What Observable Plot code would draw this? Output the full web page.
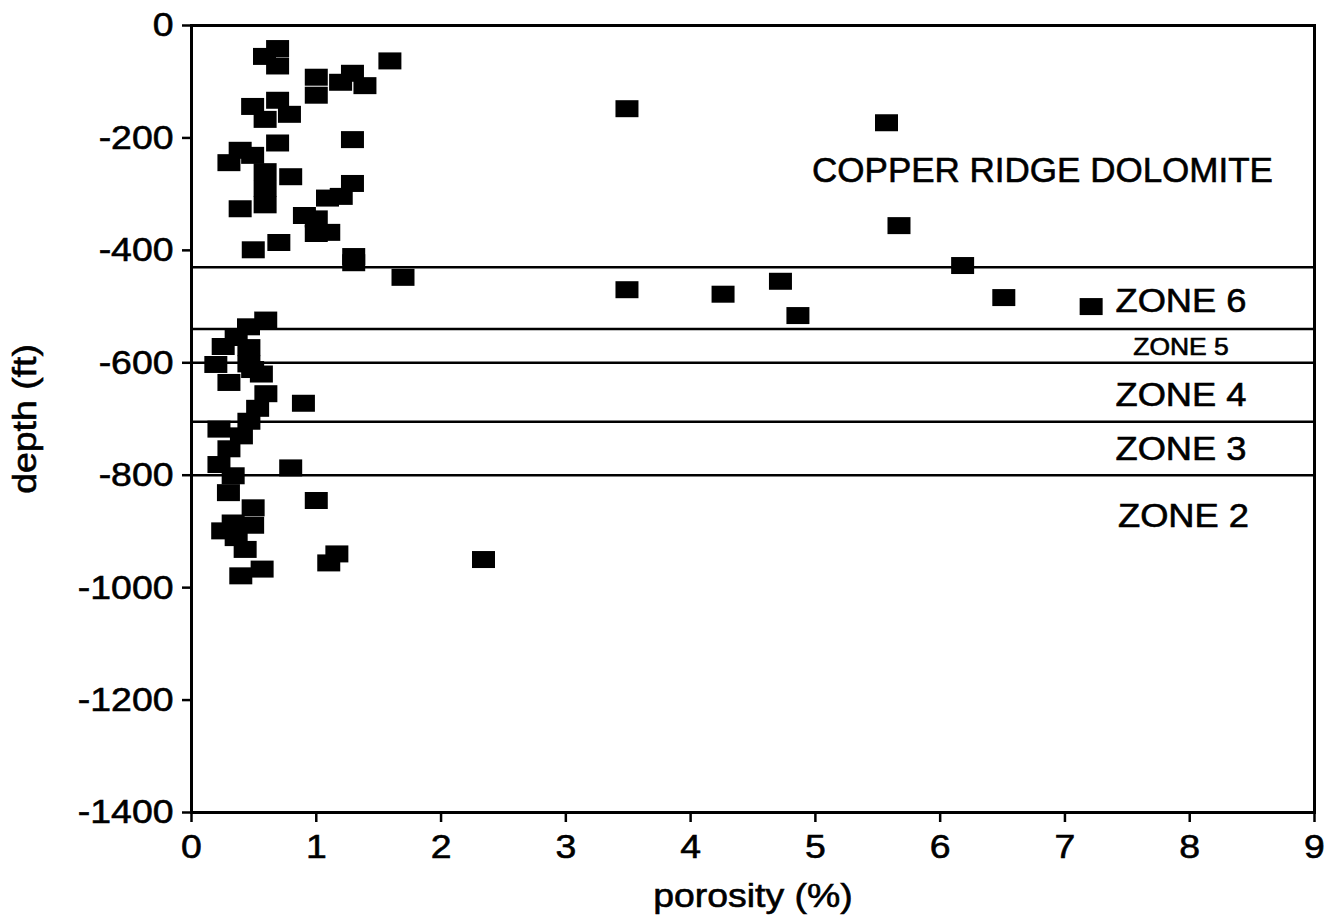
<!DOCTYPE html>
<html>
<head>
<meta charset="utf-8">
<script src="https://cdn.jsdelivr.net/npm/d3@7"></script>
<script src="https://cdn.jsdelivr.net/npm/@observablehq/plot@0.6"></script>
<style>
  html, body { margin: 0; padding: 0; background: #fff; }
  #chart svg text { stroke: #000; stroke-width: 0.6px; }
</style>
</head>
<body>
<div id="chart"></div>
<script>
// Core porosity measurements, paired by index: porosity (%) and depth (ft)
const porosity = [
  0.69, 0.585, 0.69, 1.0, 1.0, 1.29, 1.195, 1.39, 1.59, 0.69,
  0.49, 0.785, 0.59, 0.69, 0.39, 0.30, 0.49, 0.59, 0.59, 0.59,
  0.39, 0.795, 1.29, 1.29, 1.09, 1.2, 0.905, 1.0, 1.0, 1.1,
  0.70, 0.495, 1.3, 1.3, 1.695, 3.49, 5.57, 5.67, 6.18, 3.49,
  4.26, 4.72, 4.86, 6.51, 7.21,
  0.595, 0.457, 0.358, 0.254, 0.46, 0.195, 0.46, 0.49, 0.56, 0.30,
  0.596, 0.897, 0.53, 0.46, 0.22, 0.40, 0.30, 0.22, 0.795, 0.334,
  0.296, 0.494, 1.0, 0.334, 0.49, 0.25, 0.358, 0.43, 1.165, 1.10,
  0.566, 0.395, 2.34
];
const depth = [
  -41, -55, -72, -92, -124, -85, -101, -107, -63, -133,
  -144, -158, -167, -209, -222, -244, -231, -260, -290, -319,
  -326, -269, -203, -281, -307, -304, -338, -344, -370, -368,
  -386, -399, -411, -422, -448, -148, -173, -356, -427, -470,
  -478, -455, -516, -484, -500,
  -524, -536, -555, -571, -573, -603, -602, -612, -620, -635,
  -655, -672, -681, -704, -718, -730, -753, -781, -787, -801,
  -831, -858, -845, -885, -889, -899, -911, -932, -940, -956,
  -967, -979, -950
];

// Formation / zone boundaries (ft)
const zoneBoundaries = [-430, -540, -600, -705, -800];

// Unit names written inside the plot
const unitNames = ["COPPER RIDGE DOLOMITE", "ZONE 6", "ZONE 5", "ZONE 4", "ZONE 3", "ZONE 2"];

// Axis ticks
const xTicks = [0, 1, 2, 3, 4, 5, 6, 7, 8, 9];
const yTicks = [0, -200, -400, -600, -800, -1000, -1200, -1400];

const points = porosity.map((p, i) => ({porosity: p, depth: depth[i]}));

// Where each unit name sits (porosity, depth), its type size and horizontal set width
const unitLabels = [
  {name: unitNames[0], x: 6.82, y: -258, size: 35, wide: 1.0},
  {name: unitNames[1], x: 7.93, y: -491, size: 33, wide: 1.1},
  {name: unitNames[2], x: 7.93, y: -573, size: 23, wide: 1.15},
  {name: unitNames[3], x: 7.93, y: -658, size: 33, wide: 1.1},
  {name: unitNames[4], x: 7.93, y: -754, size: 33, wide: 1.1},
  {name: unitNames[5], x: 7.95, y: -874, size: 33, wide: 1.1}
];
const setWidth = new Map(unitLabels.map(d => [d.name, d.wide]));

// Filled rectangular plotting symbol, a little wider than tall
const block = { draw(ctx) { ctx.rect(-11.5, -8.5, 23, 17); } };

const chart = Plot.plot({
  width: 1335,
  height: 918,
  marginLeft: 191,
  marginRight: 21,
  marginTop: 25,
  marginBottom: 106,
  x: {domain: [0, 9]},
  y: {domain: [-1400, 0]},
  style: {
    fontFamily: "'Liberation Sans', Arial, Helvetica, sans-serif",
    fontSize: "34px",
    color: "#000",
    background: "#fff"
  },
  marks: [
    Plot.ruleY(zoneBoundaries, {stroke: "#000", strokeWidth: 2.5}),
    Plot.dot(points, {x: "porosity", y: "depth", symbol: block, fill: "#000", stroke: "none"}),
    Plot.text(unitLabels, {x: "x", y: "y", text: "name", fontSize: "size", textAnchor: "middle", fill: "#000"}),
    Plot.frame({stroke: "#000", strokeWidth: 3}),
    Plot.axisX({ticks: xTicks, tickSize: 10, tickPadding: 11, strokeWidth: 2.5, label: null}),
    Plot.axisY({ticks: yTicks, tickSize: 9, tickPadding: 9, strokeWidth: 2.5, tickFormat: d => String(d), label: null}),
    Plot.text(["porosity (%)"], {frameAnchor: "bottom", dy: 84, lineAnchor: "middle", textAnchor: "middle", fill: "#000"}),
    Plot.text(["depth (ft)"], {frameAnchor: "left", dx: -166, rotate: -90, textAnchor: "middle", lineAnchor: "middle", fill: "#000"})
  ]
});

// The lettering is set slightly wide
chart.querySelectorAll("text").forEach(t => {
  const tr = t.getAttribute("transform");
  const k = setWidth.has(t.textContent) ? setWidth.get(t.textContent) : 1.1;
  if (tr && k !== 1) t.setAttribute("transform", `${tr} scale(${k},1)`);
});

document.getElementById("chart").appendChild(chart);
</script>
</body>
</html>
